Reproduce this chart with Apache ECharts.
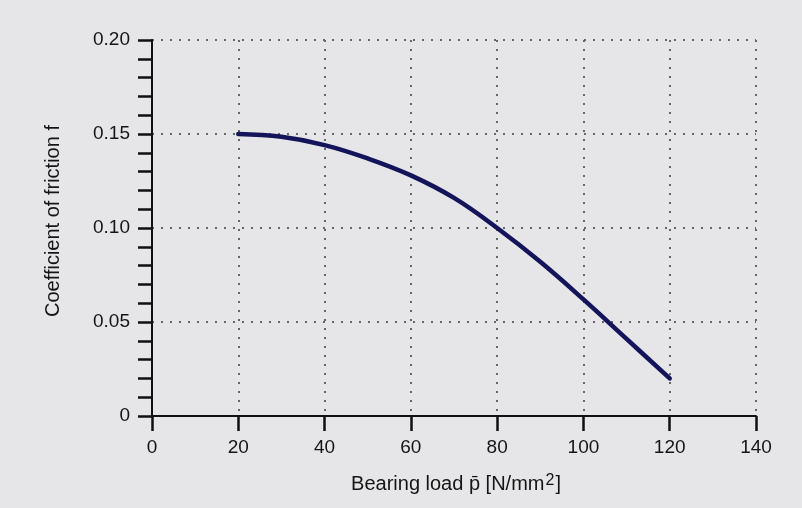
<!DOCTYPE html>
<html>
<head>
<meta charset="utf-8">
<script src="https://cdn.jsdelivr.net/npm/echarts@6/dist/echarts.min.js"></script>
<style>
html,body{margin:0;padding:0;background:#e6e6e8;}
#chart{width:802px;height:508px;}
</style>
</head>
<body>
<div id="chart"></div>
<script>
var loads = [20, 30, 40, 50, 60, 70, 80, 90, 100, 110, 120];
var friction = [0.150, 0.1485, 0.1441, 0.137, 0.128, 0.116, 0.100, 0.082, 0.062, 0.041, 0.020];
var xTicks = [0, 20, 40, 60, 80, 100, 120, 140];
var yTicks = [0, 0.05, 0.10, 0.15, 0.20];
var xTitle = 'Bearing load p\u0304 [N/mm';
var xTitleSup = '2';
var yTitle = 'Coefficient of friction f';

var data = loads.map(function (x, i) { return [x, friction[i]]; });
var font = '"Liberation Sans", Arial, sans-serif';
var grid = { type: [2, 7], color: '#666', width: 2 };

var chart = echarts.init(document.getElementById('chart'));
chart.setOption({
  backgroundColor: '#e6e6e8',
  animation: false,
  grid: { left: 152, right: 46, top: 40, bottom: 92 },
  graphic: [
    {
      type: 'text', x: 456, y: 484,
      style: {
        text: xTitle + '{s|' + xTitleSup + '}]',
        font: '20px ' + font, fill: '#151515',
        align: 'center', verticalAlign: 'middle',
        rich: { s: { fontSize: 16, fontFamily: font, fill: '#151515', padding: [0, 1, 7, 1] } }
      }
    },
    {
      type: 'text', x: 53, y: 221, rotation: Math.PI / 2,
      style: {
        text: yTitle, font: '20px ' + font, fill: '#151515',
        align: 'center', verticalAlign: 'middle'
      }
    }
  ],
  xAxis: {
    type: 'value', min: xTicks[0], max: xTicks[xTicks.length - 1], interval: 20,
    axisLine: { lineStyle: { color: '#111', width: 2 } },
    axisTick: { length: 15, lineStyle: { color: '#111', width: 2.5 } },
    axisLabel: { fontFamily: font, fontSize: 19, color: '#151515', margin: 22 },
    splitLine: { show: true, lineStyle: grid }
  },
  yAxis: {
    type: 'value', min: yTicks[0], max: yTicks[yTicks.length - 1], interval: 0.05,
    axisLine: { show: true, lineStyle: { color: '#111', width: 2 } },
    axisTick: { show: true, length: 14, lineStyle: { color: '#111', width: 2.5 } },
    minorTick: { show: true, splitNumber: 5, length: 14, lineStyle: { color: '#111', width: 2.5 } },
    axisLabel: {
      fontFamily: font, fontSize: 19, color: '#151515', margin: 22,
      formatter: function (v) { return v === 0 ? '0' : v.toFixed(2); }
    },
    splitLine: { show: true, lineStyle: grid }
  },
  series: [{
    type: 'line', data: data, smooth: 0.4, symbol: 'none',
    lineStyle: { color: '#14145a', width: 4.5, cap: 'round' }
  }]
});
</script>
</body>
</html>
